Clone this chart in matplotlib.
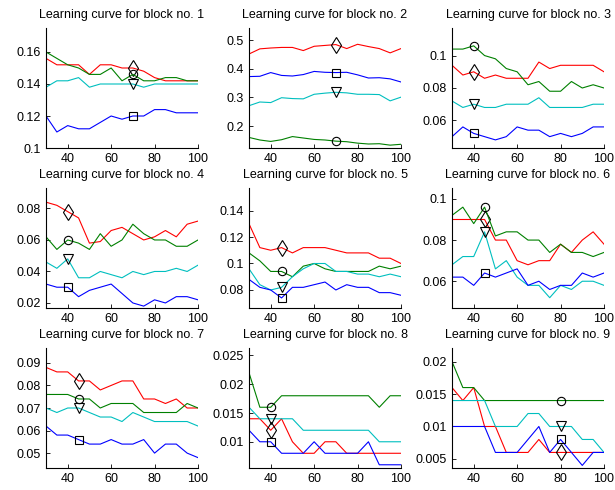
import matplotlib
matplotlib.use('Agg')
import matplotlib.pyplot as plt
from matplotlib.ticker import FormatStrFormatter

plt.rcParams['font.family'] = ['Liberation Sans', 'DejaVu Sans']
plt.rcParams['font.size'] = 9

x = [30, 35, 40, 45, 50, 55, 60, 65, 70, 75, 80, 85, 90, 95, 100]

# block 1
red1 = [0.156, 0.152, 0.152, 0.152, 0.146, 0.152, 0.152, 0.150, 0.150, 0.148, 0.144, 0.142, 0.142, 0.142, 0.142]
green1 = [0.160, 0.156, 0.152, 0.150, 0.146, 0.146, 0.150, 0.142, 0.146, 0.142, 0.142, 0.144, 0.144, 0.142, 0.142]
cyan1 = [0.138, 0.142, 0.142, 0.144, 0.138, 0.140, 0.140, 0.140, 0.140, 0.138, 0.140, 0.140, 0.140, 0.140, 0.140]
blue1 = [0.120, 0.110, 0.114, 0.112, 0.112, 0.116, 0.120, 0.118, 0.120, 0.120, 0.124, 0.124, 0.122, 0.122, 0.122]

# block 2
red2 = [0.452, 0.470, 0.473, 0.475, 0.475, 0.464, 0.479, 0.482, 0.485, 0.471, 0.486, 0.478, 0.471, 0.456, 0.471]
green2 = [0.160, 0.151, 0.146, 0.152, 0.163, 0.158, 0.153, 0.151, 0.147, 0.145, 0.140, 0.137, 0.138, 0.133, 0.136]
cyan2 = [0.271, 0.284, 0.282, 0.299, 0.296, 0.295, 0.311, 0.315, 0.318, 0.316, 0.311, 0.311, 0.310, 0.288, 0.301]
blue2 = [0.373, 0.374, 0.387, 0.377, 0.375, 0.380, 0.391, 0.388, 0.387, 0.388, 0.379, 0.368, 0.369, 0.365, 0.354]

# block 3
red3 = [0.094, 0.088, 0.090, 0.086, 0.088, 0.086, 0.086, 0.086, 0.096, 0.092, 0.094, 0.094, 0.094, 0.094, 0.090]
green3 = [0.104, 0.104, 0.106, 0.100, 0.098, 0.092, 0.090, 0.082, 0.084, 0.078, 0.078, 0.084, 0.080, 0.082, 0.080]
cyan3 = [0.072, 0.068, 0.070, 0.068, 0.068, 0.070, 0.070, 0.070, 0.074, 0.068, 0.068, 0.068, 0.068, 0.070, 0.070]
blue3 = [0.050, 0.056, 0.052, 0.050, 0.048, 0.050, 0.056, 0.054, 0.054, 0.050, 0.052, 0.050, 0.052, 0.056, 0.056]

# block 4
red4 = [0.084, 0.082, 0.078, 0.074, 0.058, 0.059, 0.066, 0.068, 0.064, 0.060, 0.062, 0.066, 0.062, 0.070, 0.072]
green4 = [0.062, 0.054, 0.060, 0.058, 0.054, 0.064, 0.056, 0.060, 0.070, 0.064, 0.060, 0.060, 0.056, 0.056, 0.060]
cyan4 = [0.046, 0.042, 0.048, 0.036, 0.036, 0.040, 0.038, 0.036, 0.040, 0.038, 0.040, 0.040, 0.042, 0.040, 0.044]
blue4 = [0.032, 0.030, 0.030, 0.024, 0.028, 0.030, 0.032, 0.026, 0.020, 0.018, 0.022, 0.020, 0.024, 0.024, 0.022]

# block 5
red5 = [0.130, 0.112, 0.110, 0.112, 0.108, 0.112, 0.112, 0.112, 0.110, 0.108, 0.108, 0.108, 0.104, 0.104, 0.100]
green5 = [0.108, 0.102, 0.094, 0.094, 0.090, 0.098, 0.100, 0.096, 0.094, 0.094, 0.094, 0.094, 0.098, 0.096, 0.098]
cyan5 = [0.096, 0.084, 0.080, 0.082, 0.090, 0.096, 0.100, 0.100, 0.094, 0.094, 0.092, 0.092, 0.090, 0.092, 0.090]
blue5 = [0.088, 0.082, 0.080, 0.074, 0.082, 0.082, 0.084, 0.086, 0.080, 0.084, 0.082, 0.082, 0.078, 0.078, 0.076]

# block 6
red6 = [0.090, 0.090, 0.090, 0.090, 0.080, 0.080, 0.070, 0.068, 0.070, 0.070, 0.078, 0.074, 0.080, 0.084, 0.078]
green6 = [0.092, 0.096, 0.088, 0.096, 0.082, 0.084, 0.084, 0.080, 0.080, 0.074, 0.078, 0.074, 0.074, 0.072, 0.074]
cyan6 = [0.068, 0.072, 0.072, 0.084, 0.066, 0.070, 0.062, 0.058, 0.058, 0.052, 0.058, 0.056, 0.060, 0.060, 0.058]
blue6 = [0.062, 0.062, 0.058, 0.064, 0.062, 0.064, 0.066, 0.058, 0.060, 0.056, 0.058, 0.058, 0.064, 0.062, 0.064]

# block 7
red7 = [0.088, 0.086, 0.086, 0.082, 0.082, 0.078, 0.080, 0.082, 0.082, 0.074, 0.074, 0.072, 0.074, 0.070, 0.070]
green7 = [0.076, 0.076, 0.076, 0.074, 0.074, 0.070, 0.072, 0.072, 0.072, 0.068, 0.068, 0.068, 0.068, 0.072, 0.070]
cyan7 = [0.070, 0.068, 0.070, 0.070, 0.068, 0.066, 0.066, 0.064, 0.068, 0.066, 0.064, 0.064, 0.064, 0.064, 0.062]
blue7 = [0.062, 0.058, 0.058, 0.056, 0.054, 0.054, 0.056, 0.054, 0.054, 0.056, 0.050, 0.054, 0.054, 0.050, 0.048]

# block 8
red8 = [0.014, 0.014, 0.012, 0.014, 0.010, 0.008, 0.008, 0.010, 0.010, 0.008, 0.008, 0.008, 0.008, 0.008, 0.008]
green8 = [0.022, 0.016, 0.016, 0.018, 0.018, 0.018, 0.018, 0.018, 0.018, 0.018, 0.018, 0.018, 0.016, 0.018, 0.018]
cyan8 = [0.016, 0.014, 0.014, 0.014, 0.014, 0.012, 0.012, 0.012, 0.012, 0.012, 0.012, 0.012, 0.010, 0.010, 0.010]
blue8 = [0.012, 0.010, 0.010, 0.008, 0.008, 0.008, 0.010, 0.008, 0.008, 0.008, 0.008, 0.010, 0.006, 0.006, 0.006]

# block 9
red9 = [0.016, 0.014, 0.016, 0.010, 0.010, 0.006, 0.006, 0.006, 0.008, 0.006, 0.006, 0.006, 0.006, 0.006, 0.006]
green9 = [0.020, 0.016, 0.016, 0.014, 0.014, 0.014, 0.014, 0.014, 0.014, 0.014, 0.014, 0.014, 0.014, 0.014, 0.014]
cyan9 = [0.014, 0.014, 0.014, 0.014, 0.010, 0.010, 0.010, 0.012, 0.012, 0.010, 0.010, 0.010, 0.008, 0.008, 0.006]
blue9 = [0.010, 0.010, 0.010, 0.010, 0.006, 0.006, 0.006, 0.008, 0.010, 0.006, 0.008, 0.006, 0.004, 0.006, 0.006]

blocks = [
    (red1, green1, cyan1, blue1),
    (red2, green2, cyan2, blue2),
    (red3, green3, cyan3, blue3),
    (red4, green4, cyan4, blue4),
    (red5, green5, cyan5, blue5),
    (red6, green6, cyan6, blue6),
    (red7, green7, cyan7, blue7),
    (red8, green8, cyan8, blue8),
    (red9, green9, cyan9, blue9),
]

# x position of the marked point in each block
mark_x = [70, 70, 40, 40, 45, 45, 45, 40, 80]

ylims = [(0.1, 0.175), (0.123, 0.543), (0.043, 0.117),
         (0.0168, 0.093), (0.0664, 0.157), (0.047, 0.1053),
         (0.0434, 0.0966), (0.00544, 0.0263), (0.0036, 0.0221)]
yticks = [[0.1, 0.12, 0.14, 0.16], [0.2, 0.3, 0.4, 0.5], [0.06, 0.08, 0.1],
          [0.02, 0.04, 0.06, 0.08], [0.08, 0.1, 0.12, 0.14], [0.06, 0.08, 0.1],
          [0.05, 0.06, 0.07, 0.08, 0.09], [0.01, 0.015, 0.02, 0.025],
          [0.005, 0.01, 0.015, 0.02]]

colors = ['#ff0000', '#008000', '#00bfbf', '#0000ff']
markers = ['d', 'o', 'v', 's']
msizes = [8, 6, 7, 5.5]

fig = plt.figure(figsize=(6.15, 4.9), dpi=100)

lefts = [46, 249, 452]
tops = [28, 188, 348]
W, H = 152, 120

for i, series in enumerate(blocks):
    r, c = divmod(i, 3)
    ax = fig.add_axes([lefts[c] / 615, 1 - (tops[r] + H) / 490, W / 615, H / 490])
    k = x.index(mark_x[i])
    for s, col, m, ms in zip(series, colors, markers, msizes):
        ax.plot(x, s, color=col, lw=0.8)
        ax.plot([x[k]], [s[k]], linestyle='none', marker=m, ms=ms,
                mfc='none', mec='k', mew=0.8)
    ax.set_xlim(30, 100)
    ax.set_ylim(*ylims[i])
    ax.set_xticks([40, 60, 80, 100])
    ax.set_yticks(yticks[i])
    ax.yaxis.set_major_formatter(FormatStrFormatter('%g'))
    ax.spines['top'].set_visible(False)
    ax.spines['right'].set_visible(False)
    ax.tick_params(direction='in', length=3, width=0.6, labelsize=9)
    ax.set_title('Learning curve for block no. %d' % (i + 1), fontsize=9, pad=7)

fig.savefig('out.png', dpi=100)
